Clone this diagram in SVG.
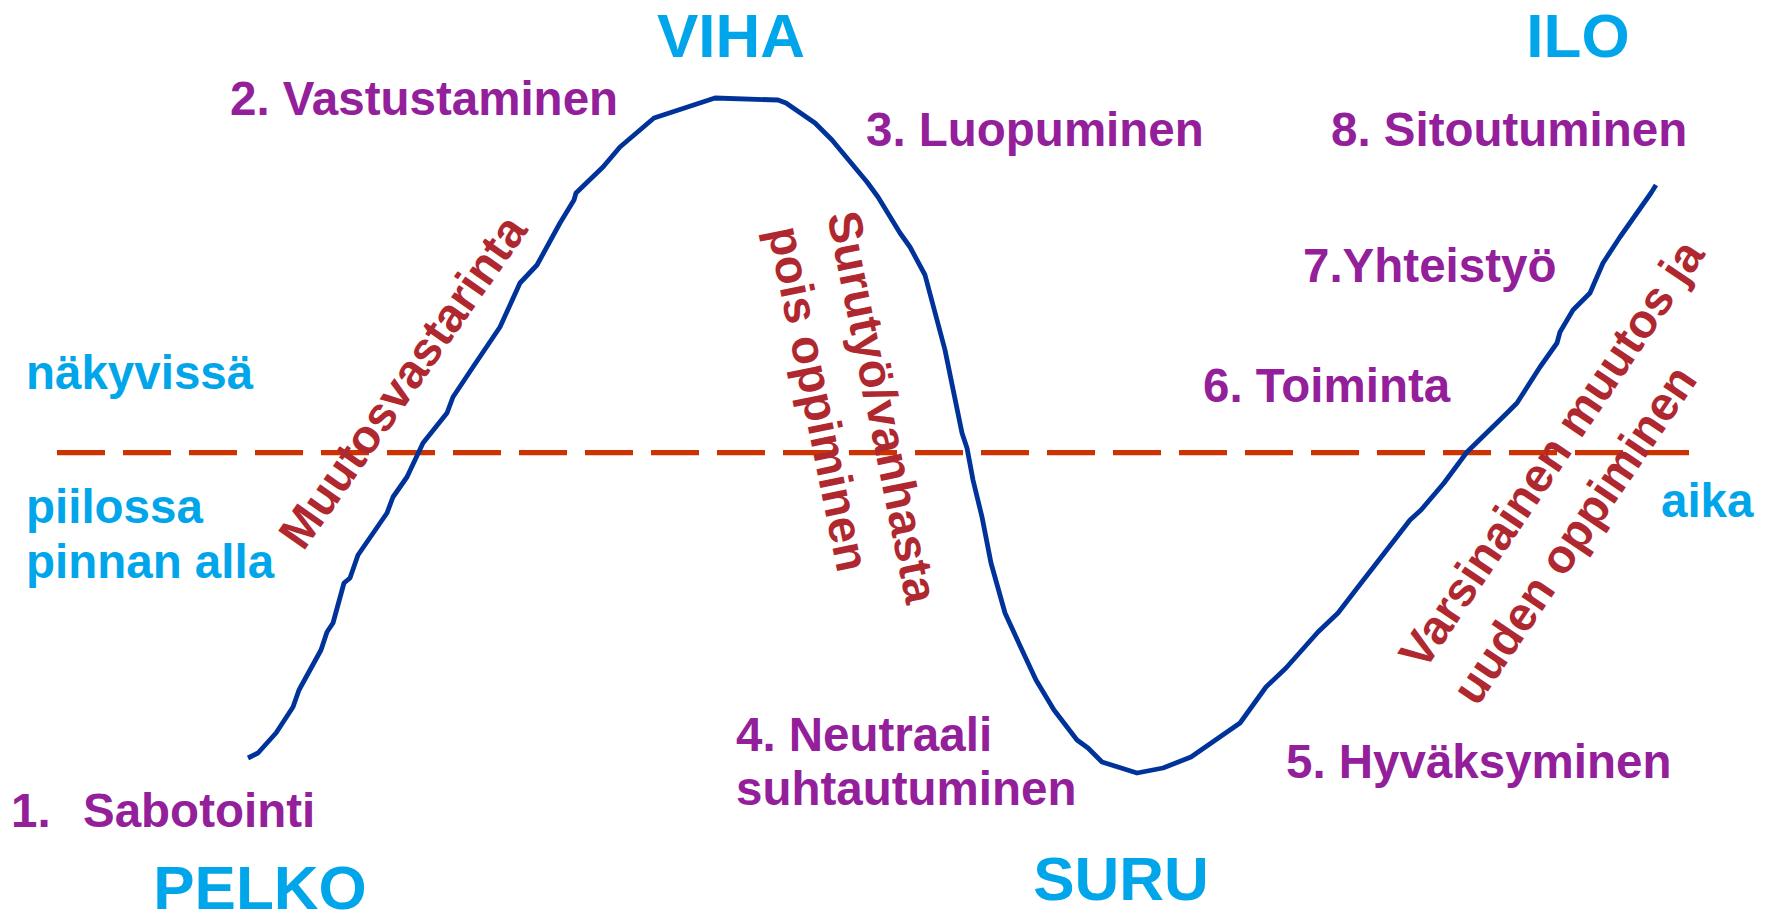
<svg xmlns="http://www.w3.org/2000/svg" width="1770" height="922" viewBox="0 0 1770 922">
<style>
text{font-family:"Liberation Sans",Arial,sans-serif;font-weight:bold}
.blue{fill:#00A5EA}
.big{font-size:62px}
.mid{font-size:47.5px}
.purple{fill:#93209A;font-size:47.5px}
.red{fill:#B0282F;font-size:47.5px}
</style>
<rect width="1770" height="922" fill="#ffffff"/>
<g id="connectors">
<line id="surface" x1="57" y1="452.7" x2="1689" y2="452.7" stroke="#CC3300" stroke-width="5.2" stroke-dasharray="48 18"/>
<path id="curve" fill="none" stroke="#003399" stroke-width="4.8" stroke-linejoin="round" stroke-linecap="butt" d="M248,758 L258,753 L276,733 L293,707 L299,690 L321,650 L327,632 L333,623 L344,583 L350,578 L358,555 L387,513 L393,497 L407,477 L423,443 L447,413 L453,397 L473,367 L500,327 L520,283 L537,265 L560,223 L574,200 L576,193 L603,167 L620,147 L654,118 L715,98 L778,100 L786,103 L815,123 L832,140 L867,182 L878,197 L900,233 L910,247 L925,275 L945,350 L962,433 L967,448 L973,480 L982,517 L991,563 L1005,613 L1022,650 L1036,680 L1054,710 L1077,740 L1088,748 L1102,762 L1137,773 L1163,768 L1191,757 L1240,723 L1266,687 L1286,668 L1318,632 L1338,613 L1358,587 L1410,520 L1421,510 L1444,483 L1467,452 L1507,413 L1517,403 L1540,367 L1557,343 L1560,332 L1573,310 L1590,293 L1603,263 L1620,237 L1651,193 L1656,185"/>
</g>
<g id="emotions">
<text id="viha" class="blue big" x="731" y="57" text-anchor="middle">VIHA</text>
<text id="ilo" class="blue big" x="1578" y="57" text-anchor="middle">ILO</text>
<text id="pelko" class="blue big" x="260" y="909" text-anchor="middle">PELKO</text>
<text id="suru" class="blue big" x="1121" y="900" text-anchor="middle">SURU</text>
</g>
<g id="levels">
<text id="nakyvissa" class="blue mid" x="26" y="389">näkyvissä</text>
<text id="piilossa" class="blue mid" x="26" y="523">piilossa<tspan x="26" y="578">pinnan alla</tspan></text>
<text id="aika" class="blue mid" x="1661" y="517">aika</text>
</g>
<g id="stage1"><text class="purple" x="11" y="827">1.<tspan x="83">Sabotointi</tspan></text></g>
<g id="stage2"><text class="purple" x="230" y="115">2. Vastustaminen</text></g>
<g id="stage3"><text class="purple" x="866" y="146">3. Luopuminen</text></g>
<g id="stage4"><text class="purple" x="736" y="751">4. Neutraali<tspan x="736" y="805">suhtautuminen</tspan></text></g>
<g id="stage5"><text class="purple" x="1286" y="778">5. Hyväksyminen</text></g>
<g id="stage6"><text class="purple" x="1203" y="402">6. Toiminta</text></g>
<g id="stage7"><text class="purple" x="1303" y="282">7.Yhteistyö</text></g>
<g id="stage8"><text class="purple" x="1331" y="146">8. Sitoutuminen</text></g>
<g id="phase-muutosvastarinta" transform="translate(416,391) rotate(-55)">
<text class="red" x="0" y="0" text-anchor="middle">Muutosvastarinta</text>
</g>
<g id="phase-surutyo" transform="translate(827,215) rotate(78.5)">
<text class="red" x="0" y="0">Surutyö/vanhasta</text>
<text class="red" x="3" y="61">pois oppiminen</text>
</g>
<g id="phase-varsinainen" transform="translate(1424,672) rotate(-56)">
<text class="red" x="0" y="0">Varsinainen muutos ja</text>
<text class="red" x="0" y="64">uuden oppiminen</text>
</g>
</svg>
